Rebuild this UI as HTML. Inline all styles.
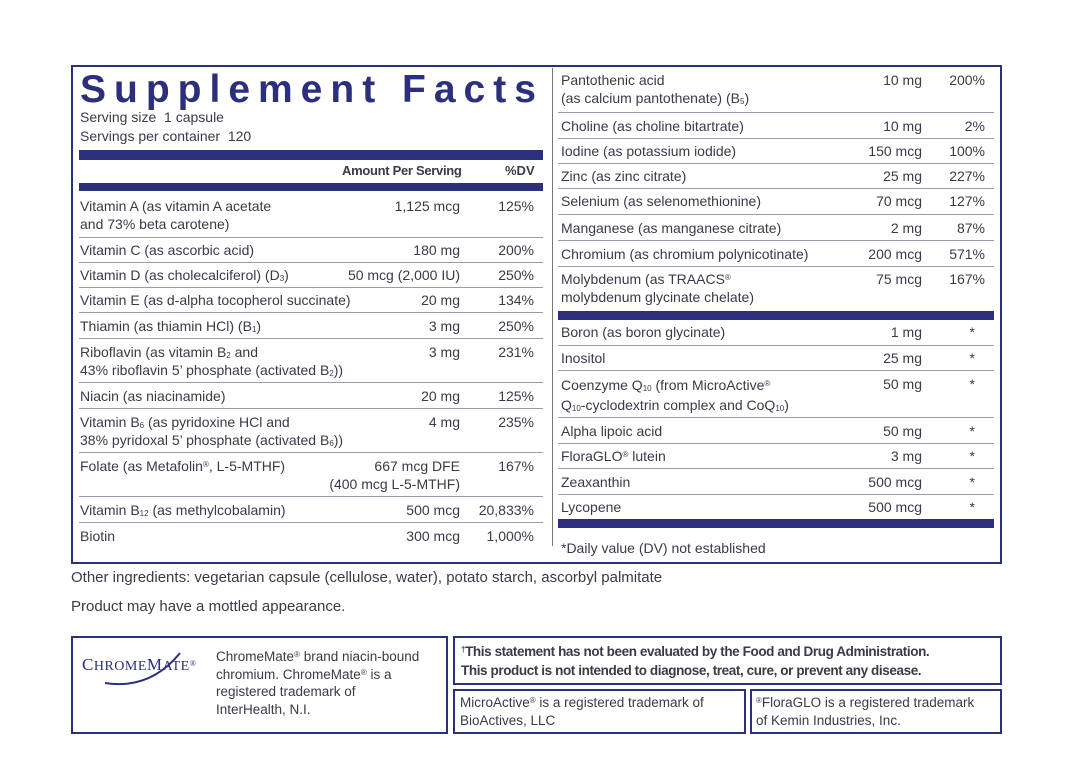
<!DOCTYPE html>
<html><head><meta charset="utf-8"><style>
body{margin:0;width:1067px;height:783px;background:#fff;position:relative;overflow:hidden;font-family:"Liberation Sans",sans-serif;color:#3a3a48;font-size:14px}
.a{position:absolute;white-space:nowrap;line-height:18px}
.r{text-align:right}
.h{position:absolute;height:1px;background:#9a9aa8}
.bar{position:absolute;background:#2b2f7c}
.box{position:absolute;border:2px solid #2b2f7c;box-sizing:border-box}
sub{font-size:8px;vertical-align:-1px;line-height:0}
sup{font-size:8px;vertical-align:4px;line-height:0}
</style></head><body>
<div class="box" style="left:71px;top:65px;width:931px;height:499px"></div>
<div class="h" style="left:552px;top:68px;width:1px;height:478px;background:#777"></div>
<div class="a" style="left:80px;top:68px;font-size:39px;line-height:44px;font-weight:bold;color:#2b2f7c;letter-spacing:8px">Supplement Facts</div>
<div class="a" style="left:80px;top:108px">Serving size &nbsp;1 capsule</div>
<div class="a" style="left:80px;top:127px">Servings per container &nbsp;120</div>
<div class="bar" style="left:79px;top:150px;width:464px;height:10px"></div>
<div class="a" style="left:342px;top:162px;font-weight:bold;font-size:13px;letter-spacing:-.3px">Amount Per Serving</div>
<div class="a" style="left:505px;top:162px;font-weight:bold;font-size:13px">%DV</div>
<div class="bar" style="left:79px;top:183px;width:464px;height:8px"></div>

<div class="a" style="left:80px;top:197px">Vitamin A (as vitamin A acetate<br>and 73% beta carotene)</div><div class="a r" style="right:607px;top:197px">1,125 mcg</div><div class="a r" style="right:533px;top:197px">125%</div>
<div class="h" style="left:79px;top:237px;width:464px"></div>
<div class="a" style="left:80px;top:241px">Vitamin C (as ascorbic acid)</div><div class="a r" style="right:607px;top:241px">180 mg</div><div class="a r" style="right:533px;top:241px">200%</div>
<div class="h" style="left:79px;top:262px;width:464px"></div>
<div class="a" style="left:80px;top:266px">Vitamin D (as cholecalciferol) (D<sub>3</sub>)</div><div class="a r" style="right:607px;top:266px">50 mcg (2,000 IU)</div><div class="a r" style="right:533px;top:266px">250%</div>
<div class="h" style="left:79px;top:287px;width:464px"></div>
<div class="a" style="left:80px;top:291px">Vitamin E (as d-alpha tocopherol succinate)</div><div class="a r" style="right:607px;top:291px">20 mg</div><div class="a r" style="right:533px;top:291px">134%</div>
<div class="h" style="left:79px;top:312px;width:464px"></div>
<div class="a" style="left:80px;top:317px">Thiamin (as thiamin HCl) (B<sub>1</sub>)</div><div class="a r" style="right:607px;top:317px">3 mg</div><div class="a r" style="right:533px;top:317px">250%</div>
<div class="h" style="left:79px;top:338px;width:464px"></div>
<div class="a" style="left:80px;top:343px">Riboflavin (as vitamin B<sub>2</sub> and<br>43% riboflavin 5’ phosphate (activated B<sub>2</sub>))</div><div class="a r" style="right:607px;top:343px">3 mg</div><div class="a r" style="right:533px;top:343px">231%</div>
<div class="h" style="left:79px;top:382px;width:464px"></div>
<div class="a" style="left:80px;top:387px">Niacin (as niacinamide)</div><div class="a r" style="right:607px;top:387px">20 mg</div><div class="a r" style="right:533px;top:387px">125%</div>
<div class="h" style="left:79px;top:408px;width:464px"></div>
<div class="a" style="left:80px;top:413px">Vitamin B<sub>6</sub> (as pyridoxine HCl and<br>38% pyridoxal 5’ phosphate (activated B<sub>6</sub>))</div><div class="a r" style="right:607px;top:413px">4 mg</div><div class="a r" style="right:533px;top:413px">235%</div>
<div class="h" style="left:79px;top:452px;width:464px"></div>
<div class="a" style="left:80px;top:457px">Folate (as Metafolin<sup>®</sup>, L-5-MTHF)</div><div class="a r" style="right:607px;top:457px;line-height:18px">667 mcg DFE<br>(400 mcg L-5-MTHF)</div><div class="a r" style="right:533px;top:457px">167%</div>
<div class="h" style="left:79px;top:496px;width:464px"></div>
<div class="a" style="left:80px;top:501px">Vitamin B<sub>12</sub> (as methylcobalamin)</div><div class="a r" style="right:607px;top:501px">500 mcg</div><div class="a r" style="right:533px;top:501px">20,833%</div>
<div class="h" style="left:79px;top:522px;width:464px"></div>
<div class="a" style="left:80px;top:527px">Biotin</div><div class="a r" style="right:607px;top:527px">300 mcg</div><div class="a r" style="right:533px;top:527px">1,000%</div>

<div class="a" style="left:561px;top:71px">Pantothenic acid<br>(as calcium pantothenate) (B<sub>5</sub>)</div><div class="a r" style="right:145px;top:71px">10 mg</div><div class="a r" style="right:82px;top:71px">200%</div>
<div class="h" style="left:558px;top:112px;width:436px"></div>
<div class="a" style="left:561px;top:117px">Choline (as choline bitartrate)</div><div class="a r" style="right:145px;top:117px">10 mg</div><div class="a r" style="right:82px;top:117px">2%</div>
<div class="h" style="left:558px;top:138px;width:436px"></div>
<div class="a" style="left:561px;top:142px">Iodine (as potassium iodide)</div><div class="a r" style="right:145px;top:142px">150 mcg</div><div class="a r" style="right:82px;top:142px">100%</div>
<div class="h" style="left:558px;top:163px;width:436px"></div>
<div class="a" style="left:561px;top:167px">Zinc (as zinc citrate)</div><div class="a r" style="right:145px;top:167px">25 mg</div><div class="a r" style="right:82px;top:167px">227%</div>
<div class="h" style="left:558px;top:188px;width:436px"></div>
<div class="a" style="left:561px;top:192px">Selenium (as selenomethionine)</div><div class="a r" style="right:145px;top:192px">70 mcg</div><div class="a r" style="right:82px;top:192px">127%</div>
<div class="h" style="left:558px;top:214px;width:436px"></div>
<div class="a" style="left:561px;top:219px">Manganese (as manganese citrate)</div><div class="a r" style="right:145px;top:219px">2 mg</div><div class="a r" style="right:82px;top:219px">87%</div>
<div class="h" style="left:558px;top:240px;width:436px"></div>
<div class="a" style="left:561px;top:245px">Chromium (as chromium polynicotinate)</div><div class="a r" style="right:145px;top:245px">200 mcg</div><div class="a r" style="right:82px;top:245px">571%</div>
<div class="h" style="left:558px;top:266px;width:436px"></div>
<div class="a" style="left:561px;top:270px">Molybdenum (as TRAACS<sup>®</sup><br>molybdenum glycinate chelate)</div><div class="a r" style="right:145px;top:270px">75 mcg</div><div class="a r" style="right:82px;top:270px">167%</div>
<div class="bar" style="left:558px;top:311px;width:436px;height:9px"></div>
<div class="a" style="left:561px;top:323px">Boron (as boron glycinate)</div><div class="a r" style="right:145px;top:323px">1 mg</div><div class="a r" style="right:92px;top:323px">*</div>
<div class="h" style="left:558px;top:345px;width:436px"></div>
<div class="a" style="left:561px;top:349px">Inositol</div><div class="a r" style="right:145px;top:349px">25 mg</div><div class="a r" style="right:92px;top:349px">*</div>
<div class="h" style="left:558px;top:370px;width:436px"></div>
<div class="a" style="left:561px;top:375px;line-height:20px">Coenzyme Q<sub>10</sub> (from MicroActive<sup>®</sup><br>Q<sub>10</sub>-cyclodextrin complex and CoQ<sub>10</sub>)</div><div class="a r" style="right:145px;top:375px">50 mg</div><div class="a r" style="right:92px;top:375px">*</div>
<div class="h" style="left:558px;top:417px;width:436px"></div>
<div class="a" style="left:561px;top:422px">Alpha lipoic acid</div><div class="a r" style="right:145px;top:422px">50 mg</div><div class="a r" style="right:92px;top:422px">*</div>
<div class="h" style="left:558px;top:443px;width:436px"></div>
<div class="a" style="left:561px;top:447px">FloraGLO<sup>®</sup> lutein</div><div class="a r" style="right:145px;top:447px">3 mg</div><div class="a r" style="right:92px;top:447px">*</div>
<div class="h" style="left:558px;top:468px;width:436px"></div>
<div class="a" style="left:561px;top:473px">Zeaxanthin</div><div class="a r" style="right:145px;top:473px">500 mcg</div><div class="a r" style="right:92px;top:473px">*</div>
<div class="h" style="left:558px;top:494px;width:436px"></div>
<div class="a" style="left:561px;top:498px">Lycopene</div><div class="a r" style="right:145px;top:498px">500 mcg</div><div class="a r" style="right:92px;top:498px">*</div>
<div class="bar" style="left:558px;top:519px;width:436px;height:9px"></div>
<div class="a" style="left:561px;top:539px">*Daily value (DV) not established</div>

<div class="a" style="left:71px;top:569px;font-size:15px">Other ingredients: vegetarian capsule (cellulose, water), potato starch, ascorbyl palmitate</div>
<div class="a" style="left:71px;top:598px;font-size:15px">Product may have a mottled appearance.</div>

<div class="box" style="left:71px;top:636px;width:377px;height:98px"></div>
<div class="a" style="left:82px;top:656px;font-family:'Liberation Serif',serif;font-size:17px;color:#2b2f7c;letter-spacing:.5px">C<span style="font-size:14px">HROME</span>M<span style="font-size:14px">ATE</span><sup>®</sup></div>
<svg style="position:absolute;left:100px;top:645px" width="100" height="45"><path d="M5 38 Q50 45 80 8" stroke="#2b2f7c" stroke-width="2" fill="none"/></svg>
<div class="a" style="left:216px;top:648px;line-height:17.5px;font-size:13.5px">ChromeMate<sup>®</sup> brand niacin-bound<br>chromium. ChromeMate<sup>®</sup> is a<br>registered trademark of<br>InterHealth, N.I.</div>
<div class="box" style="left:453px;top:636px;width:549px;height:49px"></div>
<div class="a" style="left:461px;top:642px;font-weight:bold;font-size:13.5px;letter-spacing:-.4px;line-height:19px"><sup>†</sup>This statement has not been evaluated by the Food and Drug Administration.<br>This product is not intended to diagnose, treat, cure, or prevent any disease.</div>
<div class="box" style="left:453px;top:689px;width:293px;height:45px"></div>
<div class="a" style="left:460px;top:694px;line-height:18px;font-size:13.5px">MicroActive<sup>®</sup> is a registered trademark of<br>BioActives, LLC</div>
<div class="box" style="left:750px;top:689px;width:252px;height:45px"></div>
<div class="a" style="left:756px;top:694px;line-height:18px;font-size:13.5px"><sup>®</sup>FloraGLO is a registered trademark<br>of Kemin Industries, Inc.</div>
</body></html>
